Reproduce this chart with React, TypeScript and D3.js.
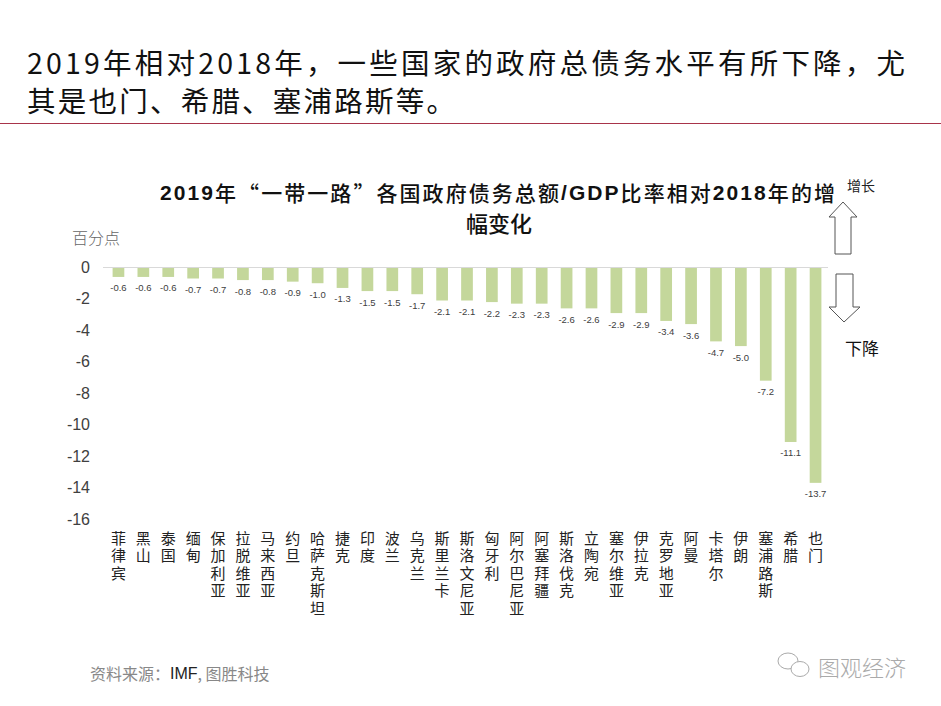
import React from "react";
import * as d3 from "d3";

const countries = ["菲律宾","黑山","泰国","缅甸","保加利亚","拉脱维亚","马来西亚","约旦","哈萨克斯坦","捷克","印度","波兰","乌克兰","斯里兰卡","斯洛文尼亚","匈牙利","阿尔巴尼亚","阿塞拜疆","斯洛伐克","立陶宛","塞尔维亚","伊拉克","克罗地亚","阿曼","卡塔尔","伊朗","塞浦路斯","希腊","也门"];
const values = [-0.6,-0.6,-0.6,-0.7,-0.7,-0.8,-0.8,-0.9,-1.0,-1.3,-1.5,-1.5,-1.7,-2.1,-2.1,-2.2,-2.3,-2.3,-2.6,-2.6,-2.9,-2.9,-3.4,-3.6,-4.7,-5.0,-7.2,-11.1,-13.7];
const yTicks = [0,-2,-4,-6,-8,-10,-12,-14,-16];

const headerLines = ["2019年相对2018年，一些国家的政府总债务水平有所下降，尤", "其是也门、希腊、塞浦路斯等。"];
const titleParts: [string, boolean][] = [["2019",true],["年“一带一路”各国政府债务总额",false],["/GDP",true],["比率相对",false],["2018",true],["年的增",false]];
const titleLine2 = "幅变化";
const unitLabel = "百分点";
const upLabel = "增长";
const downLabel = "下降";
const sourceText = ["资料来源：", "IMF", ", 图胜科技"];
const watermark = "图观经济";

const CJK = "'Noto Sans CJK SC', 'Noto Sans', sans-serif";
const LAT = "'Liberation Sans', Arial, sans-serif";

export default function App() {
  const W = 941, H = 706;
  const x = d3.scaleBand<string>().domain(countries).range([106, 828]).paddingInner(0.53).paddingOuter(0.265);
  const y = d3.scaleLinear().domain([-16, 0]).range([519, 267.5]);
  const bw = x.bandwidth();
  const catFont = 15;
  const catStep = 17.5;

  return (
    <svg width={W} height={H} style={{ position: "absolute", left: 0, top: 0, background: "#fff" }}>
      <rect x={0} y={0} width={W} height={H} fill="#fff" />
      <text x={27} y={61} dominantBaseline="central" fontFamily={CJK} fontSize={28.5} fill="#111" textLength={878} lengthAdjust="spacing">{headerLines[0]}</text>
      <text x={27} y={99} dominantBaseline="central" fontFamily={CJK} fontSize={28.5} fill="#111" textLength={428} lengthAdjust="spacing">{headerLines[1]}</text>
      <line x1={0} x2={W} y1={123.5} y2={123.5} stroke="#a8344a" strokeWidth={1} />

      {/* chart title */}
      <text x={160} y={192} dominantBaseline="central" fontSize={21} fill="#111" textLength={675} lengthAdjust="spacing">
        {titleParts.map(([s, lat], i) => (
          <tspan key={i} fontFamily={lat ? LAT : CJK} fontWeight={lat ? 700 : 500}>{s}</tspan>
        ))}
      </text>
      <text x={499} y={222} textAnchor="middle" dominantBaseline="central" fontSize={22} fontFamily={CJK} fontWeight={500} fill="#111">{titleLine2}</text>

      <text x={72} y={237} dominantBaseline="central" fontFamily={CJK} fontSize={16} fill="#666" fontWeight={300}>{unitLabel}</text>

      {yTicks.map(v => (
        <text key={v} x={90} y={y(v)} textAnchor="end" dominantBaseline="central" fontFamily={LAT} fontSize={16} fill="#404040">{v}</text>
      ))}

      {countries.map((c, i) => {
        const v = values[i];
        const x0 = x(c)!;
        const cx = x0 + bw / 2;
        return (
          <g key={c}>
            <rect x={x0} y={y(0)} width={bw} height={y(v) - y(0)} fill="#c4d79b" />
            <text x={cx} y={y(v) + 11} textAnchor="middle" dominantBaseline="central" fontFamily={LAT} fontSize={9.5} fill="#404040">{v.toFixed(1)}</text>
            <text x={cx} y={538 - catFont / 2} fontFamily={CJK} fontSize={catFont} fill="#222"
              style={{ writingMode: "vertical-rl", letterSpacing: `${catStep - catFont}px` }}>{c}</text>
          </g>
        );
      })}
      <line x1={103} x2={828} y1={y(0)} y2={y(0)} stroke="#d9d9d9" strokeWidth={1} />

      {/* arrows */}
      <path d="M843,202 L857,217 L851,217 L851,254 L835,254 L835,217 L829,217 Z" fill="#fff" stroke="#555" strokeWidth={1} />
      <path d="M836,274 L853,274 L853,307 L860,307 L844,322 L829,307 L836,307 Z" fill="#fff" stroke="#555" strokeWidth={1} />
      <text x={847} y={185} dominantBaseline="central" fontFamily={CJK} fontSize={14} fill="#222">{upLabel}</text>
      <text x={845} y={347} dominantBaseline="central" fontFamily={CJK} fontSize={17} fill="#111">{downLabel}</text>

      {/* footer */}
      <text x={90} y={673} dominantBaseline="central" fontSize={16} fill="#888" fontFamily={CJK}>
        <tspan>{sourceText[0]}</tspan>
        <tspan fontFamily={LAT} fill="#222">{sourceText[1]}</tspan>
        <tspan>{sourceText[2]}</tspan>
      </text>
      <g fill="none" stroke="#aaa" strokeWidth={1}>
        <ellipse cx={788} cy={661} rx={10} ry={8} />
        <ellipse cx={800} cy={669} rx={9} ry={7.5} fill="#fff" />
      </g>
      <text x={818} y={666} dominantBaseline="central" fontFamily={CJK} fontSize={22} fill="#aaa" fontWeight={300}>{watermark}</text>
    </svg>
  );
}
